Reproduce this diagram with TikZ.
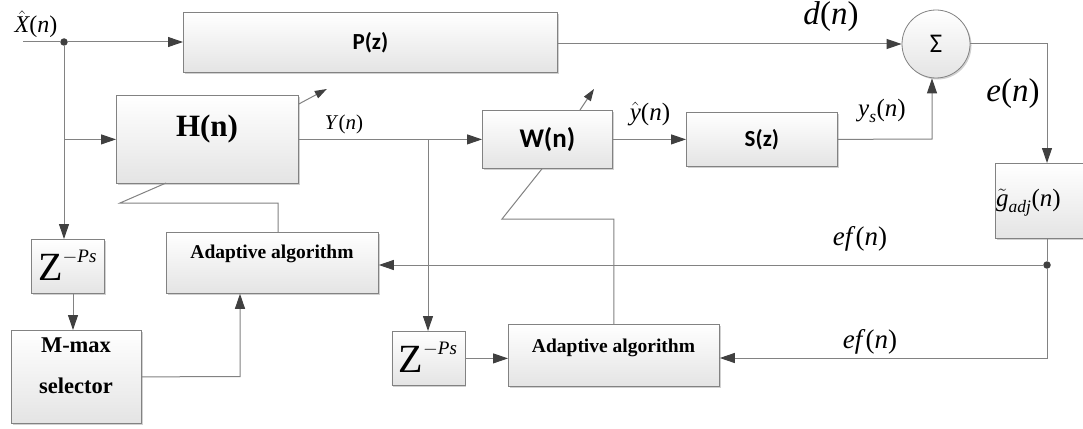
\RequirePackage{fix-cm}
\documentclass[tikz,border=0pt]{standalone}
\usepackage{amsmath}
\usepackage{fontspec}
\setmainfont{Liberation Serif}
\newfontfamily\cali{Carlito}
\newfontfamily\tms{Liberation Serif}
\usetikzlibrary{arrows.meta,shadows,calc}
\definecolor{linegray}{RGB}{130,130,130}
\definecolor{tipgray}{RGB}{64,64,64}
\definecolor{boxgray}{RGB}{228,228,228}
\newcommand{\fsz}[1]{\fontsize{#1}{#1}\selectfont}
\newcommand{\iv}[1]{\text{\tms\itshape #1}}
\newcommand{\zps}{{\fsz{40}Z}\raisebox{18pt}{\fsz{19}$-$\textit{Ps}}}
\begin{document}
\begin{tikzpicture}[x=1pt,y=-1pt,
  box/.style={draw=linegray, line width=0.8pt, top color=white, bottom color=boxgray,
    drop shadow={shadow xshift=1.5pt, shadow yshift=-1.5pt, fill=black!18, opacity=1},
    inner sep=0pt, anchor=north west},
  line/.style={draw=linegray, line width=1pt},
  arr/.style={line, -{Triangle[length=15pt,width=10pt,color=tipgray]}},
  dotn/.style={circle, fill=tipgray, inner sep=0pt, minimum size=7.5pt},
  lab/.style={inner sep=0pt}]
\useasboundingbox (0,0) rectangle (1083,428);
\fill[white] (0,0) rectangle (1083,428);

% boxes
\node[box, minimum width=374pt, minimum height=60pt] (P) at (183,12) {};
\node[box, minimum width=182pt, minimum height=88pt] (H) at (116,95) {};
\node[box, minimum width=130pt, minimum height=58pt] (W) at (482,110) {};
\node[box, minimum width=151pt, minimum height=54pt] (S) at (686,112) {};
\node[box, minimum width=88pt, minimum height=75pt] (G) at (995,163) {};
\node[box, minimum width=212pt, minimum height=61pt] (AA1) at (166,232) {};
\node[box, minimum width=73pt, minimum height=54pt] (Z1) at (31,239) {};
\node[box, minimum width=130pt, minimum height=93pt] (MM) at (11,330) {};
\node[box, minimum width=73pt, minimum height=54pt] (Z2) at (391.5,331) {};
\node[box, minimum width=211pt, minimum height=62pt] (AA2) at (508,324) {};
\node[circle, draw=linegray, line width=0.8pt, top color=white, bottom color=boxgray,
  drop shadow={shadow xshift=1.5pt, shadow yshift=-1.5pt, fill=black!18, opacity=1},
  minimum size=68pt, inner sep=0pt, font=\cali\fsz{27}] (sum) at (936,44) {Σ};

% box texts
\node[font=\cali\bfseries\fsz{23}] (Pt) at (P.center) {P(z)};
\node[font=\tms\bfseries\fsz{31}] (Ht) at (207,129) {H(n)};
\node[font=\cali\bfseries\fsz{27}] (Wt) at (W.center) {W(n)};
\node[font=\cali\bfseries\fsz{23}] (St) at (S.center) {S(z)};
\node[lab, anchor=west, font=\tms\fsz{25}] (Gt) at (996,203) {$\tilde{\iv{g}}_{\iv{adj}}$(\textit{n})};
\node[anchor=base, font=\tms\bfseries\fsz{19.5}] (AA1t) at (272,258) {Adaptive algorithm};
\node[anchor=base, font=\tms\bfseries\fsz{19.5}] (AA2t) at (613.5,352) {Adaptive algorithm};
\node[anchor=base, font=\tms\bfseries\fsz{22.5}] (MMt1) at (76,352) {M-max};
\node[anchor=base, font=\tms\bfseries\fsz{22.5}] (MMt2) at (76,393) {selector};
\node[lab, anchor=base west] (Z1t) at (38,280) {\zps};
\node[lab, anchor=base west] (Z2t) at (398.5,372) {\zps};

% signal labels
\node[lab, font=\tms\fsz{24}] (lx) at (36,24) {$\hat{\iv{X}}$(\textit{n})};
\node[lab, font=\tms\fsz{33}] (ld) at (831,17) {\textit{d}(\textit{n})};
\node[lab, font=\tms\fsz{33}] (le) at (1013,94) {\textit{e}(\textit{n})};
\node[lab, font=\tms\fsz{25}] (lys) at (882,111) {$\iv{y}_{\iv{s}}$(\textit{n})};
\node[lab, font=\tms\fsz{25}] (lyh) at (650,114) {$\hat{\iv{y}}$(\textit{n})};
\node[lab, font=\tms\fsz{21}] (lY) at (344,124) {\textit{Y}(\textit{n})};
\node[lab, font=\tms\fsz{27}] (lef1) at (860,239) {\textit{ef}(\textit{n})};
\node[lab, font=\tms\fsz{27}] (lef2) at (870,342) {\textit{ef}(\textit{n})};

% input
\coordinate (xin) at (23,42);
\node[dotn] (d1) at (64,42) {};
\draw[line] (xin) -- (d1);
\draw[arr] (d1) -- (d1 -| P.west);
\draw[arr] (d1) -- (d1 |- Z1.north);
\coordinate (hb) at (d1 |- H.west);
\draw[arr] (hb) -- (H.west);

% H adjust arrow
\coordinate (hd1) at ($(H.north east)+(0,9)$);
\coordinate (hd2) at ($(hd1)+(28,-15)$);
\draw[line, -{Triangle[length=12pt,width=8pt,color=tipgray]}] (hd1) -- (hd2);

% H -> W, branch to Z2
\draw[arr] (H.east) -- (W.west);
\coordinate (yb) at (428,139);
\draw[arr] (yb) -- (yb |- Z2.north);
\draw[arr] (Z2.east) -- (Z2.east -| AA2.west);

% AA2 feedback to W
\coordinate (w219) at (502,219);
\coordinate (wb) at ($(W.south west)+(60,0)$);
\draw[line] (AA2.north) -- (AA2.north |- w219) -- (w219) -- (wb);

% W adjust arrow
\coordinate (wd1) at ($(W.north west)+(98,0)$);
\coordinate (wd2) at ($(wd1)+(14,-21)$);
\draw[line, -{Triangle[length=12pt,width=8pt,color=tipgray]}] (wd1) -- (wd2);

% W -> S -> sum
\draw[arr] (W.east) -- (S.west);
\coordinate (sc) at (932,139);
\draw[arr] (S.east) -- (sc) -- (sc |- sum.south);
\draw[arr] (P.east |- sum.west) -- (sum.west);

% sum -> G
\coordinate (ec) at (1047,44);
\draw[arr] (sum.east) -- (ec) -- (ec |- G.north);
\node[dotn] (d2) at (1047,265) {};
\draw[line] (ec |- G.south) -- (d2);
\coordinate (ec2) at (1047,358);
\draw[arr] (d2) -- (ec2) -- (ec2 -| AA2.east);
\draw[arr] (d2) -- (d2 -| AA1.east);

% AA1 feedback to H
\coordinate (a1t) at (278,232);
\coordinate (a1u) at (278,203);
\coordinate (a1l) at (120,203);
\coordinate (hbt) at (166,183);
\draw[line] (a1t) -- (a1u) -- (a1l) -- (hbt);

% Z1 -> MM -> AA1
\coordinate (z1b) at (73,293);
\draw[arr] (z1b) -- (z1b |- MM.north);
\coordinate (mmc) at (240,376.5);
\draw[arr] (MM.east) -- (mmc) -- (mmc |- AA1.south);
\end{tikzpicture}
\end{document}
